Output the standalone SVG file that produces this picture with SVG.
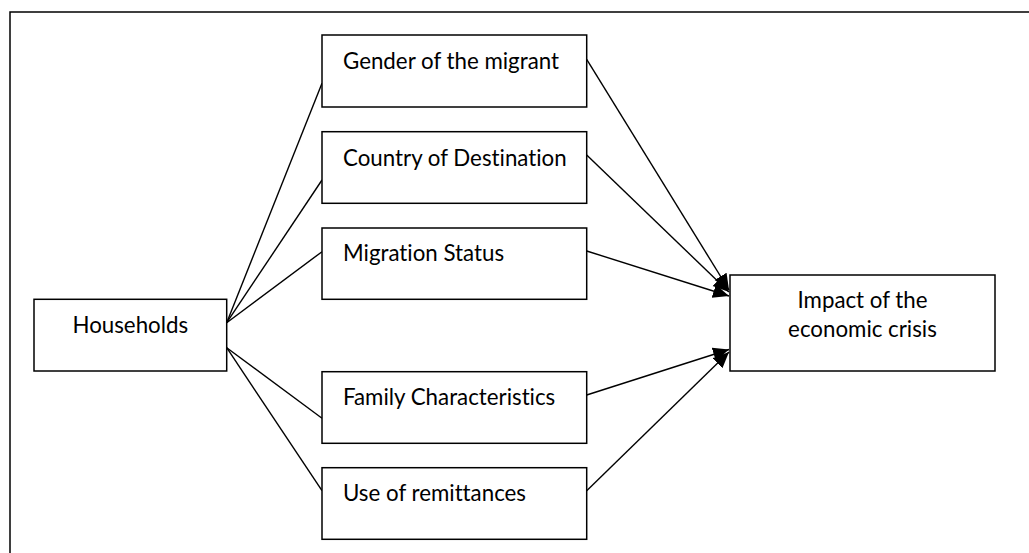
<svg xmlns="http://www.w3.org/2000/svg" width="1029" height="553" viewBox="0 0 1029 553">
<style>
.box{fill:#fff;stroke:#000;stroke-width:1.5}
.lbl{font-family:Lato,"Liberation Sans",sans-serif;font-size:22.3px;fill:#000;font-variant-ligatures:none;font-feature-settings:"liga" 0,"clig" 0,"dlig" 0}
.mid{text-anchor:middle}
.con{stroke:#000;stroke-width:1.4;fill:none}
</style>
<defs>
<marker id="arr" markerUnits="userSpaceOnUse" markerWidth="17" markerHeight="15" refX="16" refY="7" orient="auto">
<path d="M0,0 L16,7 L0,14 Z" fill="#000"/>
</marker>
</defs>
<rect width="1029" height="553" fill="#fff"/>
<path d="M10,553 L10,12 L1029,12" fill="none" stroke="#000" stroke-width="1.5"/>
<g id="connectors">
<line class="con" x1="226.7" y1="322.7" x2="322" y2="83.3"/>
<line class="con" x1="226.7" y1="322.7" x2="322" y2="180"/>
<line class="con" x1="226.7" y1="322.7" x2="322" y2="251.7"/>
<line class="con" x1="226.7" y1="347.7" x2="322" y2="418.3"/>
<line class="con" x1="226.7" y1="347.7" x2="322" y2="490.7"/>
<line class="con" x1="586.7" y1="59.3" x2="729" y2="290" marker-end="url(#arr)"/>
<line class="con" x1="586.7" y1="155" x2="729" y2="292" marker-end="url(#arr)"/>
<line class="con" x1="586.7" y1="251" x2="729" y2="296" marker-end="url(#arr)"/>
<line class="con" x1="586.7" y1="395" x2="729" y2="349.5" marker-end="url(#arr)"/>
<line class="con" x1="586.7" y1="490.7" x2="729" y2="352" marker-end="url(#arr)"/>
</g>
<g id="households">
<rect class="box" x="34" y="299.3" width="192.7" height="71.7"/>
<text class="lbl mid" x="130.3" y="332.7">Households</text>
</g>
<g id="gender">
<rect class="box" x="322" y="35" width="264.7" height="72"/>
<text class="lbl" x="343" y="69">Gender of the migrant</text>
</g>
<g id="country">
<rect class="box" x="322" y="131.7" width="264.7" height="71.6"/>
<text class="lbl" x="343" y="166">Country of Destination</text>
</g>
<g id="migration">
<rect class="box" x="322" y="228" width="264.7" height="71.3"/>
<text class="lbl" x="343" y="261">Migration Status</text>
</g>
<g id="family">
<rect class="box" x="322" y="371.7" width="264.7" height="71.6"/>
<text class="lbl" x="343" y="405">Family Characteristics</text>
</g>
<g id="remittances">
<rect class="box" x="322" y="467.7" width="264.7" height="71.6"/>
<text class="lbl" x="343" y="501">Use of remittances</text>
</g>
<g id="impact">
<rect class="box" x="730" y="275" width="265" height="96"/>
<text class="lbl mid" x="862.5" y="308">Impact of the</text>
<text class="lbl mid" x="862.5" y="337">economic crisis</text>
</g>
</svg>
